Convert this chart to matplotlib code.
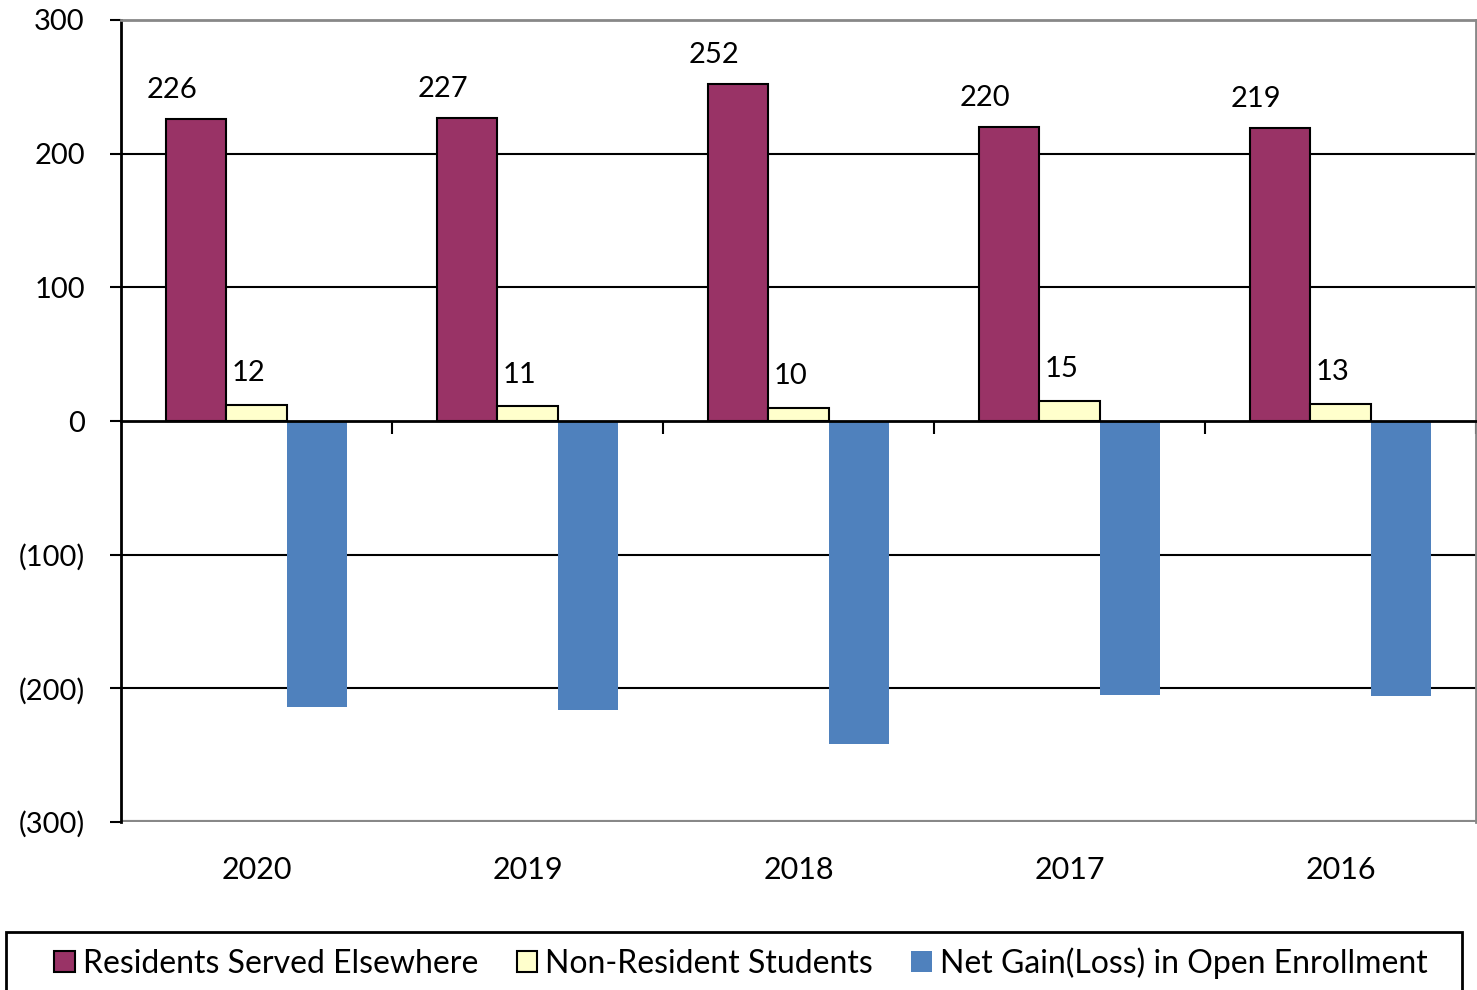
import numpy as np
import matplotlib.pyplot as plt
from matplotlib.patches import Patch, Rectangle
from matplotlib.transforms import blended_transform_factory

plt.rcParams['font.family'] = ['Lato', 'DejaVu Sans']

# chart data
years = ['2020', '2019', '2018', '2017', '2016']
residents = [226, 227, 252, 220, 219]
non_residents = [12, 11, 10, 15, 13]
net_gain = [-214, -216, -242, -205, -206]
series_names = ['Residents Served Elsewhere', 'Non-Resident Students',
                'Net Gain(Loss) in Open Enrollment']
y_ticks = [-300, -200, -100, 0, 100, 200, 300]
y_labels = ['(300)', '(200)', '(100)', '0', '100', '200', '300']

maroon = '#993366'
cream = '#FFFFCC'
blue = '#4F81BD'

fig = plt.figure(figsize=(14.77, 9.9), dpi=100)
ax = fig.add_axes([121 / 1477, 1 - 822 / 990, 1355 / 1477, 802 / 990])

x = np.arange(len(years))
w = 0.222
ax.bar(x - w, residents, w, color=maroon, edgecolor='black', linewidth=1.5, zorder=3)
ax.bar(x, non_residents, w, color=cream, edgecolor='black', linewidth=1.5, zorder=3)
ax.bar(x + w, net_gain, w, color=blue, edgecolor='none', zorder=3)

# value labels for the positive series
for xi, v in zip(x, residents):
    ax.text(xi - w - 0.09, v + 12, str(v), ha='center', va='bottom', fontsize=21)
for xi, v in zip(x, non_residents):
    ax.text(xi - 0.03, v + 14, str(v), ha='center', va='bottom', fontsize=21)

ax.set_xlim(-0.5, len(years) - 0.5)
ax.set_ylim(-300, 300)
ax.set_yticks(y_ticks)
ax.set_yticklabels(y_labels, fontsize=21)
for yv in [-200, -100, 100, 200]:
    ax.axhline(yv, color='black', linewidth=1.5, zorder=1)

# x axis sits at zero, ticks on category boundaries
ax.spines['bottom'].set_position(('data', 0))
ax.spines['bottom'].set_linewidth(2)
ax.spines['bottom'].set_zorder(4)
ax.set_xticks(np.arange(len(years)) + 0.5)
ax.set_xticklabels([])
ax.tick_params(axis='x', direction='out', length=9, width=1.5, color='black')
ax.tick_params(axis='y', direction='out', length=8, width=1.5, color='black', pad=18)
ax.spines['left'].set_linewidth(2)
for s in ['top', 'right']:
    ax.spines[s].set_color('#888888')
    ax.spines[s].set_linewidth(2)
ax.axhline(-300, color='#888888', linewidth=3, zorder=2)

trans = blended_transform_factory(ax.transData, ax.transAxes)
for xi, yr in zip(x, years):
    ax.text(xi, -0.06, yr, transform=trans, ha='center', va='center', fontsize=22)

# legend with its own frame
fig.patches.append(Rectangle((6 / 1477, -0.05), 1456 / 1477, 1 - 932 / 990 + 0.05,
                             transform=fig.transFigure, fill=False,
                             edgecolor='black', linewidth=2))
handles = [Patch(facecolor=maroon, edgecolor='black', linewidth=1.5),
           Patch(facecolor=cream, edgecolor='black', linewidth=1.5),
           Patch(facecolor=blue, edgecolor='none')]
leg = fig.legend(handles, series_names, loc='center',
                 bbox_to_anchor=(741 / 1477, 1 - 963 / 990),
                 ncol=3, fontsize=23, frameon=False,
                 handlelength=0.65, handleheight=0.65, handletextpad=0.25,
                 columnspacing=1.2, borderpad=0)

fig.savefig('out.png', dpi=100)
